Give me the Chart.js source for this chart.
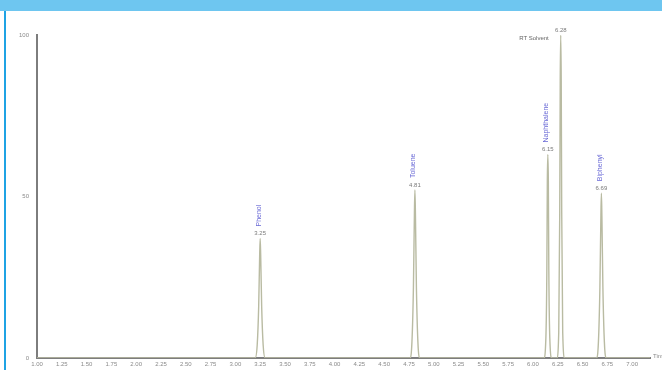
<!DOCTYPE html>
<html>
<head>
<meta charset="utf-8">
<script src="https://cdn.jsdelivr.net/npm/chart.js@4"></script>
<style>
  html,body{ margin:0; padding:0; background:#fff; }
  #wrap{ position:relative; width:662px; height:370px; overflow:hidden; }
  #band{ position:absolute; left:0; top:0; width:662px; height:11px; background:#6EC6F0; }
  #edge{ position:absolute; left:4px; top:11px; width:2px; height:359px; background:#1FA3E4; }
  #c{ position:absolute; left:0; top:0; }
</style>
</head>
<body>
<div id="wrap">
  <div id="band"></div>
  <div id="edge"></div>
  <canvas id="c" width="662" height="370"></canvas>
</div>
<script>
// retention time axis (min) and relative abundance (%)
const xTicks = [1.00,1.25,1.50,1.75,2.00,2.25,2.50,2.75,3.00,3.25,3.50,3.75,4.00,4.25,4.50,4.75,5.00,5.25,5.50,5.75,6.00,6.25,6.50,6.75,7.00];
const yTicks = [0, 50, 100];

// peaks: apex retention time, apex height, labels
const peakRT     = [3.25, 4.81, 6.15, 6.28, 6.69];
const peakHeight = [37, 52, 63, 100, 51];
const peakNames  = ["Phenol", "Toluene", "Naphthalene", "RT Solvent", "Biphenyl"];

// trace points (time, abundance)
const traceT = [1.00, 3.20, 3.22, 3.235, 3.245, 3.25, 3.255, 3.265, 3.28, 3.30,
                4.76, 4.78, 4.795, 4.805, 4.81, 4.815, 4.825, 4.84, 4.86,
                6.11, 6.13, 6.14, 6.145, 6.15, 6.155, 6.16, 6.17, 6.19,
                6.24, 6.26, 6.27, 6.275, 6.28, 6.285, 6.29, 6.30, 6.32,
                6.64, 6.66, 6.675, 6.685, 6.69, 6.695, 6.705, 6.72, 6.74, 7.18];
const traceY = [0, 0, 4, 16, 32, 37, 32, 16, 4, 0,
                0, 5, 22, 45, 52, 45, 22, 5, 0,
                0, 6, 27, 55, 63, 55, 27, 6, 0,
                0, 8, 45, 86, 100, 86, 45, 8, 0,
                0, 5, 22, 44, 51, 44, 22, 5, 0, 0];

const COLORS = { trace:"#b9bba2", axis:"#7d7d7d", tick:"#8a8a8a", name:"#6a6ad6", rt:"#7a7a7a" };

const peakLabels = {
  id:"peakLabels",
  afterDatasetsDraw(chart){
    const {ctx, scales:{x, y}, chartArea} = chart;
    ctx.save();
    ctx.font = "6px 'Liberation Sans', Arial, sans-serif";
    ctx.textBaseline = "bottom";
    peakRT.forEach((rt, i)=>{
      const px = x.getPixelForValue(rt);
      const py = y.getPixelForValue(peakHeight[i]);
      ctx.fillStyle = COLORS.rt;
      ctx.textAlign = "center";
      ctx.fillText(rt.toFixed(2), px, py - 2);
      if(peakHeight[i] >= 100){
        ctx.textAlign = "right";
        ctx.fillStyle = "#666";
        ctx.fillText(peakNames[i], px - 12, py + 6);
        return;
      }
      ctx.save();
      ctx.translate(px + 2, py - 12);
      ctx.rotate(-Math.PI/2);
      ctx.textAlign = "left";
      ctx.fillStyle = COLORS.name;
      ctx.font = "7px 'Liberation Sans', Arial, sans-serif";
      ctx.fillText(peakNames[i], 0, 0);
      ctx.restore();
    });
    ctx.fillStyle = COLORS.tick;
    ctx.textAlign = "left";
    ctx.textBaseline = "middle";
    ctx.fillText("Time", chartArea.right + 3, chartArea.bottom - 2);
    ctx.restore();
  }
};

new Chart(document.getElementById("c"), {
  type:"line",
  data:{ datasets:[{
    data: traceT.map((t, i)=>({ x:t, y:traceY[i] })),
    borderColor: COLORS.trace, borderWidth: 1.4, pointRadius: 0,
    cubicInterpolationMode: "monotone", fill: false
  }]},
  options:{
    responsive:false, animation:false, events:[],
    layout:{ padding:{ left:0, top:35, right:12, bottom:0 } },
    plugins:{ legend:{ display:false }, tooltip:{ enabled:false } },
    scales:{
      x:{ type:"linear", min:1.00, max:7.18,
        grid:{ display:false, drawTicks:false },
        border:{ color:COLORS.axis, width:2 },
        afterBuildTicks: s => { s.ticks = xTicks.map(v=>({ value:v })); },
        afterFit: s => { s.height = 12; },
        ticks:{ color:COLORS.tick, font:{ size:6, family:"Liberation Sans" }, padding:3, maxRotation:0, autoSkip:false,
          callback: v => Number(v).toFixed(2) } },
      y:{ min:0, max:100,
        grid:{ display:false, drawTicks:false },
        border:{ color:COLORS.axis, width:2 },
        afterBuildTicks: s => { s.ticks = yTicks.map(v=>({ value:v })); },
        afterFit: s => { s.width = 37; },
        ticks:{ color:COLORS.tick, font:{ size:6, family:"Liberation Sans" }, padding:8 } }
    }
  },
  plugins:[peakLabels]
});
</script>
</body>
</html>
